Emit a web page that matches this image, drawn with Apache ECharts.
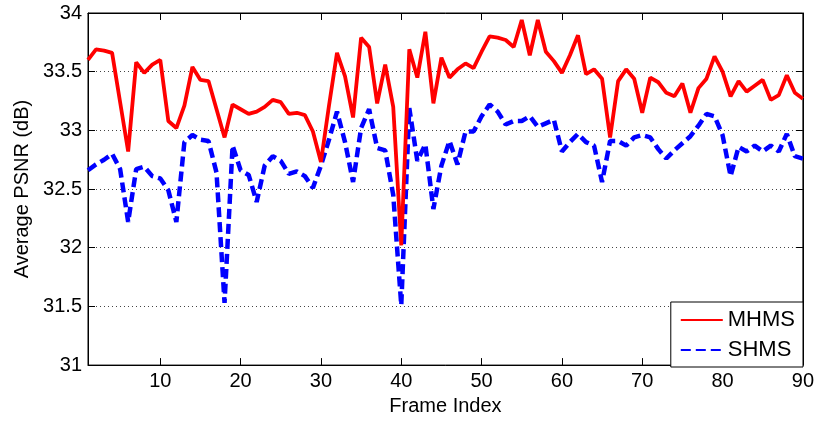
<!DOCTYPE html>
<html>
<head>
<meta charset="utf-8">
<script src="https://cdn.jsdelivr.net/npm/echarts@6/dist/echarts.min.js"></script>
<style>
  html, body { margin: 0; padding: 0; background: #fff; }
  #chart { width: 817px; height: 421px; }
</style>
</head>
<body>
<div id="chart"></div>
<script>
// Average PSNR per frame for the two schemes
const mhms = [
  33.60, 33.69, 33.68, 33.66, 33.24, 32.82, 33.58, 33.49, 33.56, 33.60,
  33.08, 33.02, 33.21, 33.54, 33.43, 33.42, 33.18, 32.94, 33.22, 33.18,
  33.14, 33.16, 33.20, 33.26, 33.24, 33.14, 33.15, 33.13, 32.99, 32.73,
  33.21, 33.66, 33.46, 33.11, 33.79, 33.71, 33.23, 33.56, 33.20, 32.02,
  33.69, 33.45, 33.84, 33.23, 33.62, 33.45, 33.52, 33.57, 33.53, 33.67,
  33.80, 33.79, 33.77, 33.71, 33.94, 33.64, 33.94, 33.67, 33.59, 33.49,
  33.64, 33.81, 33.48, 33.52, 33.44, 32.94, 33.42, 33.52, 33.44, 33.15,
  33.45, 33.41, 33.32, 33.29, 33.40, 33.15, 33.36, 33.44, 33.63, 33.50,
  33.29, 33.42, 33.33, 33.38, 33.43, 33.26, 33.30, 33.47, 33.32, 33.27
];
const shms = [
  32.66, 32.71, 32.75, 32.80, 32.67, 32.22, 32.67, 32.69, 32.61, 32.59,
  32.49, 32.22, 32.90, 32.96, 32.92, 32.91, 32.64, 31.53, 32.87, 32.66,
  32.62, 32.39, 32.70, 32.78, 32.74, 32.63, 32.65, 32.61, 32.51, 32.70,
  32.92, 33.16, 32.90, 32.56, 33.02, 33.18, 32.85, 32.83, 32.45, 31.51,
  33.19, 32.74, 32.88, 32.33, 32.70, 32.91, 32.71, 32.99, 32.99, 33.12,
  33.22, 33.16, 33.05, 33.08, 33.08, 33.12, 33.03, 33.06, 33.09, 32.82,
  32.90, 32.97, 32.90, 32.87, 32.56, 32.91, 32.91, 32.87, 32.94, 32.96,
  32.94, 32.84, 32.76, 32.83, 32.89, 32.95, 33.04, 33.14, 33.12, 32.96,
  32.61, 32.86, 32.82, 32.87, 32.82, 32.87, 32.82, 32.97, 32.78, 32.76
];
const xTicks = [10, 20, 30, 40, 50, 60, 70, 80, 90];
const seriesNames = ['MHMS', 'SHMS'];

const frames = mhms.map((_, i) => i + 1);
const pairs = vals => vals.map((v, i) => [frames[i], v]);

const FONT = '"Liberation Sans", Arial, Helvetica, sans-serif';
const axisLineStyle = { color: '#000', width: 1 };

const chart = echarts.init(document.getElementById('chart'), null, { renderer: 'canvas' });
chart.setOption({
  animation: false,
  backgroundColor: '#fff',
  textStyle: { fontFamily: FONT },
  grid: {
    left: 88, right: 14, top: 13, bottom: 54,
    show: true, borderColor: '#000', borderWidth: 1, backgroundColor: 'transparent'
  },
  legend: {
    data: seriesNames,
    orient: 'vertical',
    right: 14, bottom: 54,
    backgroundColor: '#fff',
    borderColor: '#000', borderWidth: 1, borderRadius: 0,
    padding: [6, 8, 5, 9],
    itemWidth: 42, itemHeight: 14, itemGap: 6,
    // line-only keys: hide the marker symbol drawn on the legend line
    itemStyle: { opacity: 0 },
    textStyle: { fontFamily: FONT, fontSize: 22, color: '#000', lineHeight: 24, padding: [0, 0, 0, 0] },
    z: 10
  },
  xAxis: [
    {
      type: 'value', min: 1, max: 90, position: 'bottom',
      name: 'Frame Index', nameLocation: 'middle', nameGap: 30,
      nameTextStyle: { fontFamily: FONT, fontSize: 20, color: '#000' },
      axisLine: { show: true, lineStyle: axisLineStyle },
      axisTick: { show: true, inside: true, length: 7, customValues: xTicks, lineStyle: axisLineStyle },
      axisLabel: { show: true, customValues: xTicks, fontFamily: FONT, fontSize: 20, color: '#000', margin: 6 },
      splitLine: { show: false }
    },
    {
      type: 'value', min: 1, max: 90, position: 'top',
      axisLine: { show: true, lineStyle: axisLineStyle },
      axisTick: { show: true, inside: true, length: 7, customValues: xTicks, lineStyle: axisLineStyle },
      axisLabel: { show: false },
      splitLine: { show: false }
    }
  ],
  yAxis: [
    {
      type: 'value', min: 31, max: 34, interval: 0.5, position: 'left',
      name: 'Average PSNR (dB)', nameLocation: 'middle', nameGap: 56,
      nameTextStyle: { fontFamily: FONT, fontSize: 20, color: '#000' },
      axisLine: { show: true, lineStyle: axisLineStyle },
      axisTick: { show: true, inside: true, length: 7, lineStyle: axisLineStyle },
      axisLabel: { fontFamily: FONT, fontSize: 20, color: '#000', margin: 6 },
      splitLine: { show: true, lineStyle: { color: '#444', width: 1, type: [1, 3] } }
    },
    {
      type: 'value', min: 31, max: 34, interval: 0.5, position: 'right',
      axisLine: { show: true, lineStyle: axisLineStyle },
      axisTick: { show: true, inside: true, length: 7, lineStyle: axisLineStyle },
      axisLabel: { show: false },
      splitLine: { show: false }
    }
  ],
  series: [
    {
      name: seriesNames[0], type: 'line', xAxisIndex: 0, yAxisIndex: 0,
      data: pairs(mhms), symbol: 'none', showSymbol: false,
      lineStyle: { color: '#ff0000', width: 3.8, type: 'solid' },
      itemStyle: { color: '#ff0000' },
      z: 3
    },
    {
      name: seriesNames[1], type: 'line', xAxisIndex: 0, yAxisIndex: 0,
      data: pairs(shms), symbol: 'none', showSymbol: false,
      lineStyle: { color: '#0000ff', width: 4.5, type: [10, 5] },
      itemStyle: { color: '#0000ff' },
      z: 2
    }
  ]
});
</script>
</body>
</html>
